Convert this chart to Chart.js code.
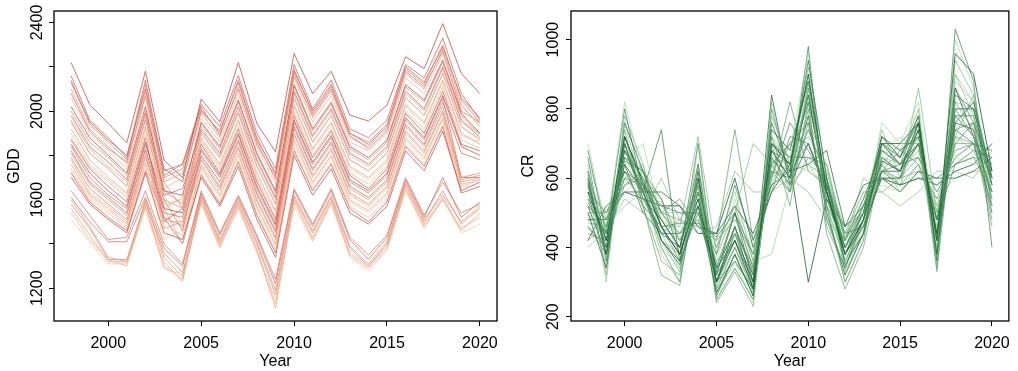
<!DOCTYPE html>
<html>
<head>
<meta charset="utf-8">
<script src="https://cdn.jsdelivr.net/npm/chart.js@4.4.1/dist/chart.umd.min.js"></script>
<style>
  html, body { margin: 0; padding: 0; background: #fff; }
  .panel { position: absolute; top: 0; }
</style>
</head>
<body>
<canvas id="chart-gdd" class="panel" style="left:0" width="509" height="371"></canvas>
<canvas id="chart-cr" class="panel" style="left:509px" width="509" height="371"></canvas>
<script>
/* ===== GDD / CR per year, one line per site ===== */
const years = [1998, 1999, 2000, 2001, 2002, 2003, 2004, 2005, 2006, 2007, 2008, 2009,
               2010, 2011, 2012, 2013, 2014, 2015, 2016, 2017, 2018, 2019, 2020];
const xTicks = [2000, 2005, 2010, 2015, 2020];
const gddTicks = [1200, 1400, 1600, 1800, 2000, 2200, 2400];
const gddLabelled = [1200, 1600, 2000, 2400];
const crTicks = [200, 400, 600, 800, 1000];

// GDD series (left panel)
const gdd01 = [2219, 2030, 1944, 1857, 2180, 1779, 1700, 2054, 1952, 2219, 1944, 1816, 2260, 2079, 2180, 1982, 1955, 2027, 2245, 2192, 2395, 2170, 2079];
const gdd02 = [2160, 1960, 1880, 1790, 2140, 1730, 1760, 2030, 1930, 2160, 1900, 1740, 2210, 2010, 2140, 1920, 1880, 1960, 2210, 2150, 2330, 2080, 1960];
const gdd03 = [2140, 1940, 1860, 1780, 2120, 1700, 1740, 2010, 1900, 2140, 1880, 1710, 2190, 1990, 2110, 1900, 1860, 1940, 2190, 2120, 2300, 2050, 1950];
const gdd04 = [2100, 1920, 1840, 1760, 2090, 1680, 1720, 1990, 1880, 2110, 1860, 1690, 2170, 1970, 2090, 1880, 1840, 1920, 2170, 2100, 2280, 2030, 1930];
const gdd05 = [2060, 1900, 1820, 1740, 2060, 1650, 1700, 1970, 1860, 2080, 1840, 1670, 2150, 1950, 2070, 1860, 1820, 1900, 2150, 2080, 2260, 2020, 1940];
const gdd06 = [2020, 1880, 1800, 1720, 2020, 1640, 1620, 1950, 1840, 2050, 1810, 1640, 2120, 1920, 2040, 1840, 1790, 1870, 2120, 2050, 2230, 1990, 1900];
const gdd07 = [1980, 1840, 1770, 1690, 1990, 1620, 1650, 1920, 1810, 2020, 1780, 1610, 2090, 1890, 2010, 1810, 1760, 1840, 2090, 2010, 2200, 1960, 1880];
const gdd08 = [1950, 1810, 1740, 1660, 1960, 1640, 1580, 1900, 1790, 1990, 1750, 1580, 2060, 1860, 1980, 1780, 1730, 1810, 2060, 1980, 2170, 1930, 1870];
const gdd09 = [1920, 1780, 1700, 1630, 1930, 1600, 1560, 1880, 1760, 1960, 1720, 1550, 2030, 1830, 1950, 1750, 1700, 1780, 2030, 1950, 2140, 1900, 1850];
const gdd10 = [1880, 1750, 1680, 1610, 1900, 1580, 1600, 1860, 1740, 1930, 1690, 1520, 2000, 1800, 1920, 1720, 1670, 1750, 2000, 1920, 2110, 1870, 1830];
const gdd11 = [1850, 1720, 1640, 1570, 1860, 1560, 1540, 1830, 1710, 1900, 1660, 1490, 1960, 1770, 1890, 1690, 1640, 1720, 1970, 1880, 2070, 1840, 1800];
const gdd12 = [1820, 1680, 1610, 1540, 1830, 1540, 1520, 1800, 1680, 1870, 1630, 1460, 1930, 1740, 1860, 1660, 1610, 1690, 1940, 1850, 2040, 1810, 1780];
const gdd13 = [1790, 1650, 1580, 1510, 1800, 1520, 1480, 1780, 1650, 1840, 1600, 1430, 1900, 1710, 1830, 1630, 1580, 1660, 1910, 1820, 2000, 1700, 1720];
const gdd14 = [1760, 1620, 1560, 1490, 1770, 1500, 1500, 1750, 1620, 1810, 1570, 1400, 1870, 1680, 1800, 1600, 1550, 1630, 1880, 1790, 1970, 1680, 1700];
const gdd15 = [1730, 1600, 1540, 1470, 1740, 1480, 1440, 1720, 1590, 1780, 1540, 1370, 1830, 1650, 1770, 1570, 1520, 1600, 1850, 1760, 1940, 1660, 1690];
const gdd16 = [1700, 1580, 1510, 1450, 1720, 1450, 1420, 1700, 1570, 1750, 1510, 1340, 1800, 1620, 1740, 1540, 1490, 1570, 1820, 1730, 1910, 1640, 1680];
const gdd17 = [1610, 1500, 1410, 1410, 1610, 1380, 1300, 1630, 1440, 1610, 1430, 1220, 1640, 1480, 1640, 1420, 1330, 1430, 1690, 1520, 1700, 1520, 1590];
const gdd18 = [1580, 1470, 1330, 1330, 1590, 1360, 1270, 1610, 1410, 1590, 1400, 1170, 1610, 1450, 1610, 1380, 1300, 1400, 1670, 1500, 1640, 1490, 1560];
const gdd19 = [1560, 1440, 1320, 1320, 1570, 1300, 1240, 1590, 1390, 1570, 1370, 1110, 1590, 1420, 1590, 1350, 1290, 1380, 1650, 1480, 1610, 1460, 1540];
const gdd20 = [1510, 1410, 1310, 1310, 1560, 1290, 1260, 1580, 1380, 1560, 1360, 1150, 1570, 1410, 1580, 1340, 1280, 1370, 1640, 1470, 1600, 1450, 1490];
const gdd21 = [2130, 1950, 1870, 1800, 2100, 1740, 1680, 2000, 1910, 2130, 1870, 1720, 2180, 2000, 2120, 1900, 1850, 1930, 2200, 2130, 2290, 2060, 1970];
const gdd22 = [2080, 1910, 1830, 1770, 2070, 1710, 1760, 2020, 1890, 2100, 1850, 1700, 2160, 1980, 2100, 1890, 1830, 1910, 2180, 2110, 2270, 2000, 1950];
const gdd23 = [2000, 1860, 1790, 1710, 2000, 1680, 1560, 1940, 1830, 2040, 1800, 1630, 2110, 1910, 2030, 1830, 1780, 1860, 2110, 2040, 2220, 1980, 1890];
const gdd24 = [1960, 1830, 1750, 1680, 1970, 1560, 1610, 1910, 1800, 2000, 1770, 1600, 2080, 1880, 2000, 1800, 1750, 1830, 2080, 2000, 2190, 1950, 1900];
const gdd25 = [1900, 1760, 1690, 1620, 1920, 1620, 1480, 1870, 1750, 1950, 1700, 1540, 2020, 1820, 1940, 1740, 1690, 1770, 2020, 1940, 2130, 1890, 1860];
const gdd26 = [1870, 1740, 1660, 1590, 1880, 1500, 1560, 1850, 1720, 1920, 1680, 1510, 1980, 1790, 1910, 1710, 1650, 1740, 1990, 1900, 2090, 1850, 1820];
const gdd27 = [1840, 1700, 1620, 1560, 1850, 1600, 1460, 1820, 1700, 1890, 1650, 1480, 1950, 1760, 1880, 1680, 1630, 1710, 1960, 1870, 2060, 1700, 1700];
const gdd28 = [1810, 1670, 1600, 1530, 1820, 1470, 1500, 1790, 1660, 1860, 1620, 1450, 1920, 1730, 1850, 1650, 1600, 1680, 1930, 1840, 2020, 1690, 1710];
const gdd29 = [1780, 1630, 1570, 1500, 1790, 1560, 1400, 1760, 1640, 1830, 1590, 1420, 1890, 1700, 1820, 1620, 1570, 1650, 1900, 1810, 1990, 1670, 1690];
const gdd30 = [1740, 1610, 1550, 1480, 1760, 1420, 1460, 1740, 1610, 1800, 1560, 1390, 1850, 1670, 1790, 1590, 1540, 1620, 1870, 1780, 1960, 1650, 1700];
const gdd31 = [1720, 1590, 1520, 1460, 1730, 1520, 1400, 1710, 1580, 1770, 1530, 1360, 1820, 1640, 1760, 1560, 1500, 1590, 1840, 1750, 1930, 1630, 1660];
const gdd32 = [1640, 1530, 1420, 1430, 1640, 1400, 1310, 1640, 1450, 1620, 1440, 1240, 1650, 1490, 1650, 1430, 1350, 1440, 1700, 1530, 1680, 1540, 1580];
const gdd33 = [1600, 1480, 1340, 1320, 1600, 1340, 1250, 1620, 1420, 1600, 1410, 1190, 1620, 1460, 1620, 1390, 1310, 1410, 1680, 1510, 1620, 1500, 1570];
const gdd34 = [1540, 1420, 1330, 1300, 1580, 1320, 1230, 1600, 1400, 1580, 1380, 1130, 1600, 1430, 1600, 1360, 1300, 1390, 1660, 1490, 1600, 1470, 1520];

// CR series (right panel)
const cr01 = [560, 420, 720, 590, 460, 380, 540, 300, 420, 280, 700, 640, 900, 560, 380, 480, 650, 620, 760, 420, 960, 900, 620];
const cr02 = [600, 380, 680, 560, 420, 350, 520, 270, 380, 260, 760, 620, 940, 600, 350, 440, 700, 660, 780, 380, 840, 800, 580];
const cr03 = [520, 460, 650, 620, 500, 440, 480, 330, 460, 330, 640, 700, 760, 520, 420, 520, 620, 640, 700, 480, 780, 720, 600];
const cr04 = [480, 440, 600, 540, 440, 480, 560, 400, 520, 360, 620, 560, 660, 600, 400, 500, 600, 600, 660, 520, 700, 700, 560];
const cr05 = [640, 300, 760, 560, 380, 300, 700, 250, 340, 250, 820, 580, 880, 500, 300, 420, 680, 640, 720, 340, 900, 780, 520];
const cr06 = [450, 470, 560, 600, 520, 460, 460, 420, 480, 400, 600, 640, 620, 640, 440, 560, 580, 560, 640, 560, 660, 640, 640];
const cr07 = [580, 400, 700, 540, 480, 400, 600, 320, 500, 300, 680, 600, 840, 540, 400, 500, 720, 680, 720, 440, 760, 820, 600];
const cr08 = [540, 480, 620, 580, 520, 500, 500, 380, 580, 420, 560, 720, 700, 580, 440, 460, 620, 580, 600, 600, 640, 680, 660];
const cr09 = [620, 360, 740, 520, 360, 320, 640, 280, 400, 270, 720, 560, 800, 460, 340, 480, 640, 700, 700, 380, 820, 740, 480];
const cr10 = [500, 420, 600, 640, 460, 420, 520, 360, 440, 340, 640, 660, 720, 620, 420, 500, 660, 620, 680, 500, 720, 680, 560];
const cr11 = [700, 450, 820, 600, 400, 340, 580, 260, 360, 240, 700, 680, 960, 520, 360, 460, 760, 700, 820, 400, 1000, 860, 540];
const cr12 = [420, 520, 560, 560, 560, 520, 460, 440, 520, 440, 580, 620, 640, 680, 460, 580, 600, 560, 620, 600, 600, 620, 660];
const cr13 = [460, 400, 660, 620, 540, 380, 700, 300, 460, 320, 600, 760, 680, 580, 400, 520, 700, 640, 700, 480, 700, 760, 620];
const cr14 = [560, 340, 700, 520, 320, 290, 600, 240, 330, 230, 700, 520, 820, 440, 280, 400, 640, 580, 760, 330, 800, 720, 460];
const cr15 = [400, 450, 540, 500, 600, 480, 440, 460, 620, 560, 560, 600, 560, 480, 420, 600, 560, 520, 560, 620, 620, 600, 680];
const cr16 = [600, 480, 640, 700, 480, 440, 560, 360, 540, 380, 660, 640, 760, 640, 380, 520, 680, 720, 680, 500, 740, 800, 580];
const cr17 = [520, 380, 640, 560, 440, 400, 580, 340, 420, 300, 840, 580, 700, 560, 380, 460, 600, 600, 740, 440, 860, 720, 560];
const cr18 = [680, 440, 800, 560, 740, 360, 520, 300, 360, 280, 680, 600, 980, 480, 340, 480, 720, 660, 760, 360, 1030, 880, 400];
const cr19 = [500, 500, 580, 620, 500, 540, 460, 420, 740, 420, 600, 820, 620, 580, 460, 500, 620, 680, 640, 540, 680, 700, 640];
const cr20 = [580, 420, 680, 600, 460, 460, 720, 380, 500, 700, 640, 560, 860, 580, 440, 500, 740, 600, 860, 500, 720, 840, 600];
const cr21 = [650, 480, 700, 560, 500, 420, 500, 290, 440, 290, 720, 620, 860, 560, 360, 460, 660, 640, 720, 420, 880, 820, 580];
const cr22 = [500, 340, 720, 580, 420, 360, 620, 260, 380, 260, 660, 580, 780, 500, 320, 440, 620, 620, 740, 380, 760, 740, 540];
const cr23 = [560, 500, 620, 520, 460, 470, 470, 430, 500, 380, 700, 660, 660, 640, 420, 540, 680, 640, 660, 560, 660, 700, 680];
const cr24 = [440, 420, 580, 600, 540, 420, 540, 350, 440, 350, 650, 620, 700, 560, 400, 480, 600, 580, 640, 480, 640, 660, 560];
const cr25 = [610, 320, 780, 640, 420, 330, 580, 270, 360, 280, 780, 640, 920, 600, 330, 440, 720, 660, 800, 360, 940, 840, 520];
const cr26 = [470, 460, 520, 560, 500, 500, 480, 400, 560, 360, 380, 580, 640, 560, 430, 540, 640, 560, 620, 540, 600, 620, 620];
const cr27 = [590, 380, 760, 620, 460, 380, 560, 300, 440, 300, 740, 680, 880, 560, 380, 480, 700, 700, 760, 420, 800, 800, 600];
const cr28 = [530, 440, 640, 500, 440, 440, 520, 340, 500, 340, 620, 600, 740, 600, 380, 500, 660, 620, 700, 480, 740, 700, 520];
const cr29 = [660, 360, 700, 560, 400, 300, 600, 250, 340, 250, 800, 600, 860, 520, 300, 420, 700, 640, 780, 340, 860, 760, 500];
const cr30 = [420, 460, 600, 580, 500, 480, 460, 420, 480, 380, 580, 700, 640, 600, 440, 560, 560, 600, 620, 580, 640, 660, 640];
const cr31 = [570, 400, 720, 560, 440, 340, 600, 280, 400, 280, 700, 620, 900, 560, 340, 460, 680, 660, 740, 400, 900, 820, 560];
const cr32 = [480, 480, 560, 540, 520, 520, 440, 440, 600, 400, 560, 640, 300, 540, 460, 520, 600, 580, 600, 580, 620, 640, 700];
const cr33 = [620, 420, 680, 600, 480, 400, 640, 300, 460, 280, 680, 640, 820, 580, 360, 480, 680, 640, 720, 420, 780, 780, 580];
const cr34 = [540, 440, 660, 580, 460, 360, 500, 320, 420, 320, 700, 640, 840, 560, 400, 500, 660, 620, 700, 440, 740, 760, 580];
const cr35 = [460, 380, 620, 560, 420, 380, 560, 300, 400, 290, 640, 560, 760, 520, 360, 440, 620, 600, 700, 420, 720, 700, 500];
const cr36 = [600, 460, 700, 620, 500, 420, 520, 330, 460, 320, 720, 660, 880, 580, 380, 500, 700, 680, 760, 460, 820, 800, 620];

const gddSeries = [gdd01, gdd02, gdd03, gdd04, gdd05, gdd06, gdd07, gdd08, gdd09, gdd10,
                   gdd11, gdd12, gdd13, gdd14, gdd15, gdd16, gdd17, gdd18, gdd19, gdd20,
                   gdd21, gdd22, gdd23, gdd24, gdd25, gdd26, gdd27, gdd28, gdd29, gdd30,
                   gdd31, gdd32, gdd33, gdd34];
const crSeries = [cr01, cr02, cr03, cr04, cr05, cr06, cr07, cr08, cr09, cr10,
                  cr11, cr12, cr13, cr14, cr15, cr16, cr17, cr18, cr19, cr20,
                  cr21, cr22, cr23, cr24, cr25, cr26, cr27, cr28, cr29, cr30,
                  cr31, cr32, cr33, cr34, cr35, cr36];

Chart.defaults.font.family = '"Liberation Sans", Arial, sans-serif';
Chart.defaults.font.size = 16;
Chart.defaults.color = '#000';

// blend dark -> light, shade order scrambled so the colours mix like the original
function shade(dark, light, i, n) {
  const t = ((i * 7) % n) / (n - 1);
  const c = dark.map((d, k) => Math.round(d + (light[k] - d) * t));
  const a = dark[3] + (light[3] - dark[3]) * t;
  return `rgba(${c[0]},${c[1]},${c[2]},${a.toFixed(2)})`;
}

// black frame round the plot region
const boxPlugin = {
  id: 'box',
  afterDraw(chart) {
    const { ctx, chartArea: a } = chart;
    ctx.save();
    ctx.strokeStyle = '#000';
    ctx.lineWidth = 1.3;
    ctx.strokeRect(a.left, a.top, a.right - a.left, a.bottom - a.top);
    ctx.restore();
  }
};

function panel(id, series, dark, light, y) {
  const n = series.length;
  return new Chart(document.getElementById(id), {
    type: 'line',
    data: {
      labels: years,
      datasets: series.map((s, i) => ({
        data: s, borderColor: shade(dark, light, i, n), borderWidth: 1,
        pointRadius: 0, tension: 0, fill: false
      }))
    },
    options: {
      responsive: false, animation: false, devicePixelRatio: 1,
      layout: { padding: { left: 0, top: 11, right: y.right, bottom: 0 } },
      plugins: { legend: { display: false }, tooltip: { enabled: false } },
      scales: {
        x: {
          type: 'linear', min: 1997.08, max: 2020.92,
          afterBuildTicks: s => { s.ticks = xTicks.map(v => ({ value: v })); },
          afterFit: s => { s.height = 50; },
          grid: { drawOnChartArea: false, tickLength: 5, color: '#000' },
          border: { display: false },
          ticks: { padding: 8, autoSkip: false, maxRotation: 0, callback: v => String(v) },
          title: { display: true, text: 'Year', padding: { top: 0, bottom: 0 } }
        },
        y: {
          min: y.min, max: y.max,
          afterBuildTicks: s => { s.ticks = y.ticks.map(v => ({ value: v })); },
          afterFit: s => { s.width = y.width; },
          grid: { drawOnChartArea: false, tickLength: 5, color: '#000' },
          border: { display: false },
          ticks: {
            autoSkip: false, minRotation: 90, maxRotation: 90, crossAlign: 'center',
            padding: y.pad, callback: y.label
          },
          title: { display: true, text: y.title, padding: { top: y.titlePad, bottom: 0 } }
        }
      }
    },
    plugins: [boxPlugin]
  });
}

panel('chart-gdd', gddSeries, [196, 78, 78, 0.8], [252, 200, 160, 0.75], {
  min: 1052, max: 2452, ticks: gddTicks, width: 54, right: 12, pad: -6.5, titlePad: 4.6,
  title: 'GDD', label: v => gddLabelled.includes(v) ? String(v) : ''
});

panel('chart-cr', crSeries, [20, 90, 50, 0.8], [150, 210, 150, 0.55], {
  min: 187.6, max: 1082.5, ticks: crTicks, width: 62, right: 6, pad: -4.9, titlePad: 10.4,
  title: 'CR', label: v => String(v)
});
</script>
</body>
</html>
